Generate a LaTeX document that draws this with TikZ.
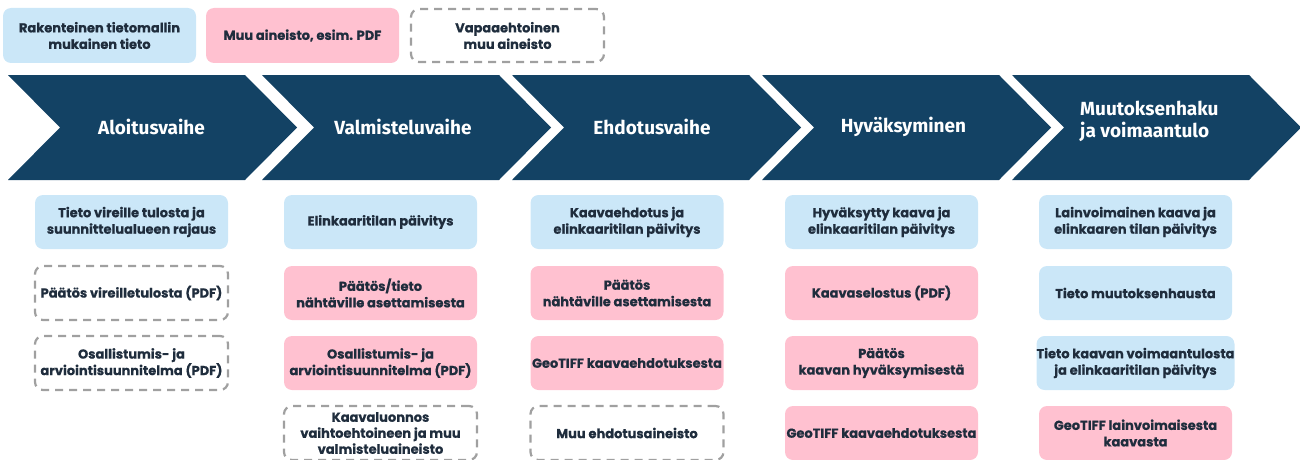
\documentclass[tikz,border=0pt]{standalone}
\usepackage{fontspec}
\setmainfont{Poppins}[BoldFeatures={FakeBold=0.6}]
\newfontfamily\chevfont{Fira Sans}
\definecolor{navy}{HTML}{134264}
\definecolor{lblue}{HTML}{CBE7F8}
\definecolor{lpink}{HTML}{FFC1D0}
\definecolor{txt}{HTML}{1F2D3D}
\definecolor{dgray}{HTML}{A0A0A0}
\tikzset{
  box/.style={minimum width=193pt, minimum height=54pt, inner sep=0pt, rounded corners=8pt,
    align=center, text=txt, font=\fontsize{13}{16.5}\selectfont\bfseries},
  bluebox/.style={box, fill=lblue},
  pinkbox/.style={box, fill=lpink},
  dashbox/.style={box, draw=dgray, line width=2.2pt, dash pattern=on 8pt off 6pt},
  chevtext/.style={text=white, align=left, font=\chevfont\fontsize{19}{22}\selectfont\bfseries},
}
\begin{document}
\begin{tikzpicture}[x=1pt,y=-1pt]
\useasboundingbox (0,0) rectangle (1300,460);
% legend
\node[bluebox, minimum height=55pt] (lg1) at (99.5,35.5) {Rakenteinen tietomallin\\mukainen tieto};
\node[pinkbox, minimum height=55pt] (lg2) at (302.5,35.5) {Muu aineisto, esim. PDF};
\node[dashbox, minimum width=193pt, minimum height=53pt] (lg3) at (507.5,35.5) {Vapaaehtoinen\\muu aineisto};
% chevrons
\foreach \L in {8,262,512,762,1012}{
  \fill[navy] (\L,75) -- (\L+237,75) -- (\L+289,127.5) -- (\L+237,180) -- (\L,180) -- (\L+52,127.5) -- cycle;
}
\node[chevtext] (c1) at (151.5,127) {Aloitusvaihe};
\node[chevtext] (c2) at (403,127) {Valmisteluvaihe};
\node[chevtext] (c3) at (652,127) {Ehdotusvaihe};
\node[chevtext] (c4) at (903.5,127) {Hyväksyminen};
\node[chevtext, anchor=west, inner sep=0pt] (c5) at (1080,121) {Muutoksenhaku\\ja voimaantulo};
% column 1
\node[bluebox] (a1) at (131.5,222) {Tieto vireille tulosta ja\\suunnittelualueen rajaus};
\node[dashbox] (a2) at (131.5,293) {Päätös vireilletulosta (PDF)};
\node[dashbox] (a3) at (131.5,363) {Osallistumis- ja\\arviointisuunnitelma (PDF)};
% column 2
\node[bluebox] (b1) at (380.5,222) {Elinkaaritilan päivitys};
\node[pinkbox] (b2) at (380.5,293) {Päätös/tieto\\nähtäville asettamisesta};
\node[pinkbox] (b3) at (380.5,363) {Osallistumis- ja\\arviointisuunnitelma (PDF)};
\node[dashbox, font=\fontsize{13}{16}\selectfont\bfseries] (b4) at (380.5,433) {Kaavaluonnos\\vaihtoehtoineen ja muu\\valmisteluaineisto};
% column 3
\node[bluebox] (d1) at (627,222) {Kaavaehdotus ja\\elinkaaritilan päivitys};
\node[pinkbox] (d2) at (627,293) {Päätös\\nähtäville asettamisesta};
\node[pinkbox] (d3) at (627,363) {GeoTIFF kaavaehdotuksesta};
\node[dashbox] (d4) at (627,433) {Muu ehdotusaineisto};
% column 4
\node[bluebox] (e1) at (881.5,222) {Hyväksytty kaava ja\\elinkaaritilan päivitys};
\node[pinkbox] (e2) at (881.5,293) {Kaavaselostus (PDF)};
\node[pinkbox] (e3) at (881.5,363) {Päätös\\kaavan hyväksymisestä};
\node[pinkbox] (e4) at (881.5,433) {GeoTIFF kaavaehdotuksesta};
% column 5
\node[bluebox] (f1) at (1135.5,222) {Lainvoimainen kaava ja\\elinkaaren tilan päivitys};
\node[bluebox] (f2) at (1135.5,293) {Tieto muutoksenhausta};
\node[bluebox] (f3) at (1135.5,363) {Tieto kaavan voimaantulosta\\ja elinkaaritilan päivitys};
\node[pinkbox] (f4) at (1135.5,433) {GeoTIFF lainvoimaisesta\\kaavasta};
\end{tikzpicture}
\end{document}
